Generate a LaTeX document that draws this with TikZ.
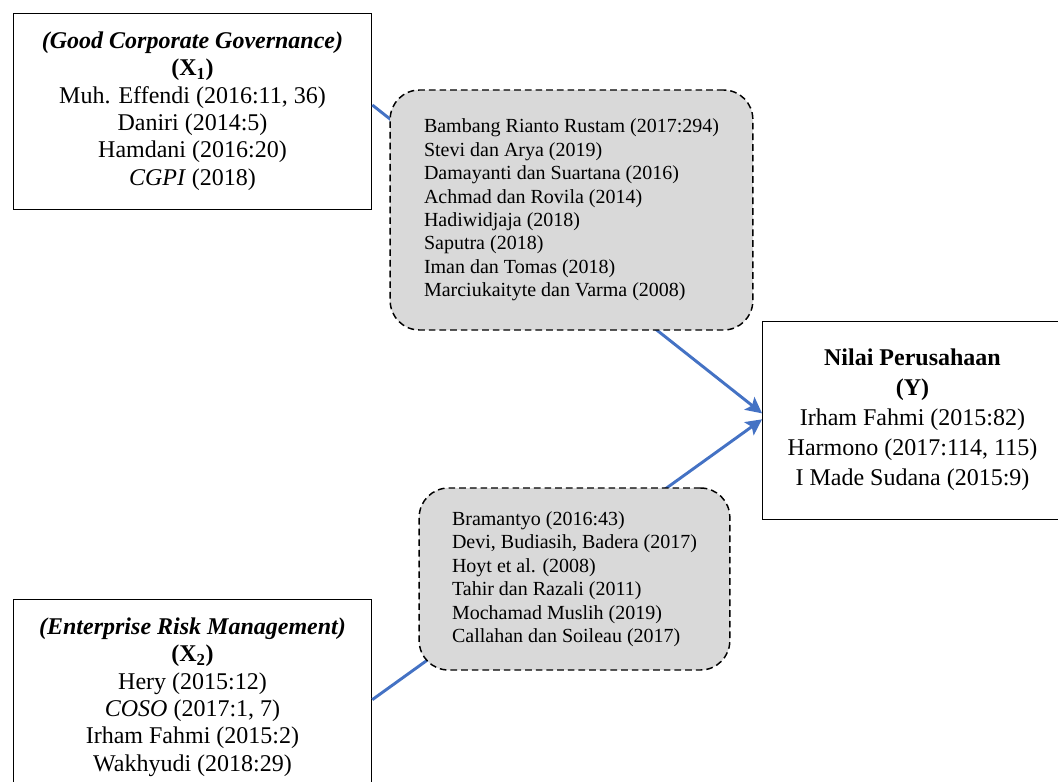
\documentclass[tikz,border=0pt]{standalone}
\usepackage{fontspec}
\setmainfont{Liberation Serif}
\usepackage{tikz}
\usetikzlibrary{arrows.meta, positioning, shapes}
\definecolor{linkblue}{HTML}{4472C4}
\definecolor{refgray}{HTML}{D9D9D9}
\tikzstyle{varbox} = [rectangle, draw=black, line width=0.7pt, fill=white, align=center, minimum width=269pt, minimum height=147pt, font=\fontsize{18}{20.5}\selectfont]
\tikzstyle{ybox} = [rectangle, draw=black, line width=0.7pt, fill=white, align=center, minimum width=225pt, minimum height=148.5pt, font=\fontsize{18}{22.5}\selectfont]
\tikzstyle{refbox} = [rectangle, rounded corners=22pt, draw=black, line width=1.1pt, dash pattern=on 5pt off 3pt, fill=refgray, align=left, font=\fontsize{15}{17.6}\selectfont]
\tikzstyle{arrow} = [line width=2.2pt, draw=linkblue, -{Stealth[length=12pt,width=12pt,inset=2.5pt]}]

\begin{document}
\begin{tikzpicture}[x=0.75pt, y=-0.75pt]
\useasboundingbox (0,0) rectangle (1058,782);
% Variables
\node (xone) [varbox] at (192.5,111) {\textbf{\textit{(Good Corporate Governance)}}\\\textbf{(X\textsubscript{1})}\\Muh. Effendi (2016:11, 36)\\Daniri (2014:5)\\Hamdani (2016:20)\\\textit{CGPI} (2018)};
\node (xtwo) [varbox] at (192.5,697) {\textbf{\textit{(Enterprise Risk Management)}}\\\textbf{(X\textsubscript{2})}\\Hery (2015:12)\\\textit{COSO} (2017:1, 7)\\Irham Fahmi (2015:2)\\Wakhyudi (2018:29)};
\node (yval) [ybox] at (912.5,420) {\textbf{Nilai Perusahaan}\\\textbf{(Y)}\\Irham Fahmi (2015:82)\\Harmono (2017:114, 115)\\I Made Sudana (2015:9)};

% Links, drawn before the reference boxes so they pass under them
\draw [arrow] ([yshift=4.5pt]xone.east) -- ([yshift=5pt]yval.west);
\draw [arrow] ([yshift=-2pt]xtwo.east) -- ([yshift=0.5pt]yval.west);

% Reference boxes
\node (refone) [refbox, minimum width=272pt, minimum height=180pt] at (571.5,210) {Bambang Rianto Rustam (2017:294)\\Stevi dan Arya (2019)\\Damayanti dan Suartana (2016)\\Achmad dan Rovila (2014)\\Hadiwidjaja (2018)\\Saputra (2018)\\Iman dan Tomas (2018)\\Marciukaityte dan Varma (2008)};
\node (reftwo) [refbox, minimum width=233pt, minimum height=136.5pt] at (574.5,579) {Bramantyo (2016:43)\\Devi, Budiasih, Badera (2017)\\Hoyt et al. (2008)\\Tahir dan Razali (2011)\\Mochamad Muslih (2019)\\Callahan dan Soileau (2017)};
\end{tikzpicture}
\end{document}
